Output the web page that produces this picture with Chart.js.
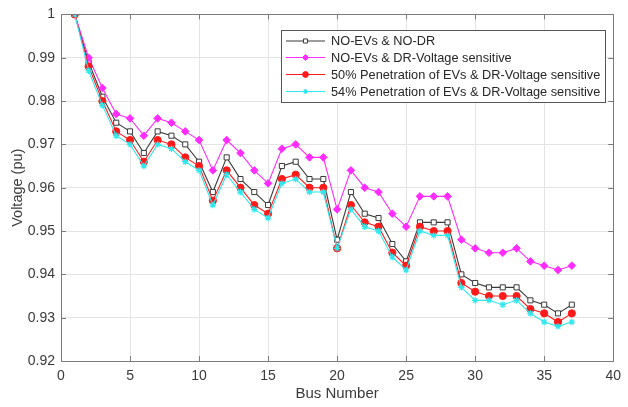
<!DOCTYPE html>
<html>
<head>
<meta charset="utf-8">
<script src="https://cdn.jsdelivr.net/npm/chart.js@4/dist/chart.umd.min.js"></script>
<style>
  html, body { margin: 0; padding: 0; background: #ffffff; }
  #wrap { width: 628px; height: 407px; position: relative; }
</style>
</head>
<body>
<div id="wrap"><canvas id="c" width="628" height="407"></canvas></div>
<script>
// Bus indices of the feeder
const busNumbers = [1, 2, 3, 4, 5, 6, 7, 8, 9, 10, 11, 12, 13, 14, 15, 16, 17, 18, 19, 20,
  21, 22, 23, 24, 25, 26, 27, 28, 29, 30, 31, 32, 33, 34, 35, 36, 37];

// Bus voltages (pu) for each scenario
const noEvNoDr = [1.000, 0.989, 0.981, 0.975, 0.973, 0.968, 0.973, 0.972, 0.970, 0.966,
  0.959, 0.967, 0.962, 0.959, 0.956, 0.965, 0.966, 0.962, 0.962, 0.948,
  0.959, 0.954, 0.953, 0.947, 0.943, 0.952, 0.952, 0.952, 0.940, 0.938,
  0.937, 0.937, 0.937, 0.934, 0.933, 0.931, 0.933];
const noEvDrVs = [1.000, 0.990, 0.983, 0.977, 0.976, 0.972, 0.976, 0.975, 0.973, 0.971,
  0.964, 0.971, 0.968, 0.964, 0.961, 0.969, 0.970, 0.967, 0.967, 0.955,
  0.964, 0.960, 0.959, 0.954, 0.951, 0.958, 0.958, 0.958, 0.948, 0.946,
  0.945, 0.945, 0.946, 0.943, 0.942, 0.941, 0.942];
const ev50DrVs = [1.000, 0.988, 0.980, 0.973, 0.971, 0.966, 0.971, 0.970, 0.967, 0.965,
  0.957, 0.964, 0.960, 0.956, 0.954, 0.962, 0.963, 0.960, 0.960, 0.946,
  0.956, 0.952, 0.951, 0.945, 0.942, 0.951, 0.950, 0.950, 0.938, 0.936,
  0.935, 0.935, 0.935, 0.932, 0.931, 0.929, 0.931];
const ev54DrVs = [1.000, 0.987, 0.979, 0.972, 0.970, 0.965, 0.970, 0.969, 0.966, 0.964,
  0.956, 0.963, 0.959, 0.955, 0.953, 0.961, 0.962, 0.959, 0.959, 0.946,
  0.955, 0.951, 0.950, 0.944, 0.941, 0.950, 0.949, 0.949, 0.937, 0.934,
  0.934, 0.933, 0.934, 0.931, 0.929, 0.928, 0.929];

const seriesLabels = [
  'NO-EVs & NO-DR',
  'NO-EVs & DR-Voltage sensitive',
  '50% Penetration of EVs & DR-Voltage sensitive',
  '54% Penetration of EVs & DR-Voltage sensitive'
];

// Axis ranges and tick steps
const xRange = [0, 40];
const xStep = 5;
const yRange = [0.92, 1.0];
const yStep = 0.01;

const FONT = "'Liberation Sans', Arial, sans-serif";

function toPoints(values) {
  return values.map((v, i) => ({ x: busNumbers[i], y: v }));
}

const styles = [
  { color: '#3a3a3a', pointStyle: 'rect', pointRadius: 3.6, fill: '#ffffff', borderW: 1 },
  { color: '#ff2bff', pointStyle: 'rectRot', pointRadius: 3.8, fill: '#ff2bff', borderW: 1 },
  { color: '#ff1a1a', pointStyle: 'circle', pointRadius: 3.6, fill: '#ff1a1a', borderW: 1 },
  { color: '#2ee8ee', pointStyle: 'star', pointRadius: 3.2, fill: '#2ee8ee', borderW: 1.2 }
];
const seriesValues = [noEvNoDr, noEvDrVs, ev50DrVs, ev54DrVs];

const datasets = seriesValues.map((vals, i) => ({
  label: seriesLabels[i],
  data: toPoints(vals),
  borderColor: styles[i].color,
  backgroundColor: styles[i].fill,
  borderWidth: 1.1,
  pointStyle: styles[i].pointStyle,
  pointRadius: styles[i].pointRadius,
  pointBorderWidth: styles[i].borderW,
  pointBorderColor: styles[i].color,
  pointBackgroundColor: styles[i].fill,
  tension: 0,
  // later series are painted on top of earlier ones
  order: seriesValues.length - i
}));

// Box outline and inward tick marks on all four sides
const axesBox = {
  id: 'axesBox',
  afterDatasetsDraw(chart) {
    const { ctx, chartArea: a, scales } = chart;
    const xs = scales.x, ys = scales.y;
    ctx.save();
    ctx.strokeStyle = '#7a7a7a';
    ctx.lineWidth = 1;
    ctx.beginPath();
    const tl = 5;
    xs.ticks.forEach(t => {
      const px = Math.round(xs.getPixelForValue(t.value)) + 0.5;
      ctx.moveTo(px, a.bottom); ctx.lineTo(px, a.bottom - tl);
      ctx.moveTo(px, a.top); ctx.lineTo(px, a.top + tl);
    });
    ys.ticks.forEach(t => {
      const py = Math.round(ys.getPixelForValue(t.value)) + 0.5;
      ctx.moveTo(a.left, py); ctx.lineTo(a.left + tl, py);
      ctx.moveTo(a.right, py); ctx.lineTo(a.right - tl, py);
    });
    ctx.stroke();
    ctx.strokeRect(Math.round(a.left) + 0.5, Math.round(a.top) + 0.5,
      Math.round(a.right - a.left), Math.round(a.bottom - a.top));
    ctx.restore();
  }
};

// Legend box in the upper right of the plot, line sample with marker per row
const insideLegend = {
  id: 'insideLegend',
  afterDraw(chart) {
    const { ctx } = chart;
    const bx = 281.5, by = 30.5, bw = 324, bh = 72;
    ctx.save();
    ctx.fillStyle = '#ffffff';
    ctx.fillRect(bx, by, bw, bh);
    ctx.strokeStyle = '#555555';
    ctx.lineWidth = 1;
    ctx.strokeRect(bx, by, bw, bh);
    const rowY = [41, 57.5, 74.5, 91.5];
    ctx.font = '12.75px ' + FONT;
    ctx.textBaseline = 'middle';
    ctx.textAlign = 'left';
    chart.data.datasets.forEach((ds, i) => {
      const y = rowY[i];
      ctx.strokeStyle = ds.borderColor;
      ctx.lineWidth = 1.1;
      ctx.beginPath();
      ctx.moveTo(286, y); ctx.lineTo(325, y);
      ctx.stroke();
      ctx.save();
      ctx.fillStyle = ds.pointBackgroundColor;
      ctx.strokeStyle = ds.pointBorderColor;
      ctx.lineWidth = ds.pointBorderWidth;
      Chart.helpers.drawPoint(ctx, {
        pointStyle: ds.pointStyle,
        radius: ds.pointRadius * 0.8,
        rotation: 0,
        borderWidth: ds.pointBorderWidth
      }, 305.5, y);
      ctx.restore();
      ctx.fillStyle = '#262626';
      ctx.fillText(ds.label, 331, y + 0.5);
    });
    ctx.restore();
  }
};

new Chart(document.getElementById('c'), {
  type: 'line',
  data: { datasets },
  options: {
    responsive: false,
    animation: false,
    devicePixelRatio: 1,
    layout: { padding: { left: 0, right: 9, top: 14, bottom: 0 } },
    plugins: {
      legend: { display: false },
      tooltip: { enabled: false }
    },
    scales: {
      x: {
        type: 'linear',
        min: xRange[0],
        max: xRange[1],
        ticks: {
          stepSize: xStep,
          padding: 7,
          color: '#3a3a3a',
          font: { family: FONT, size: 14 },
          maxRotation: 0
        },
        grid: { color: '#e4e4e4', lineWidth: 1, drawTicks: false },
        border: { display: true, color: '#7a7a7a' },
        title: {
          display: true,
          text: 'Bus Number',
          color: '#3a3a3a',
          font: { family: FONT, size: 15 },
          padding: { top: 0, bottom: 4 }
        },
        afterFit(scale) { scale.height = 46; }
      },
      y: {
        min: yRange[0],
        max: yRange[1],
        ticks: {
          stepSize: yStep,
          padding: 6,
          color: '#3a3a3a',
          font: { family: FONT, size: 14 },
          callback: v => (Math.abs(v - 1) < 1e-9 ? '1' : v.toFixed(2))
        },
        grid: { color: '#e4e4e4', lineWidth: 1, drawTicks: false },
        border: { display: true, color: '#7a7a7a' },
        title: {
          display: true,
          text: 'Voltage (pu)',
          color: '#3a3a3a',
          font: { family: FONT, size: 14.5 },
          padding: { top: 9.5, bottom: 0 }
        },
        afterFit(scale) { scale.width = 61; }
      }
    }
  },
  plugins: [axesBox, insideLegend]
});
</script>
</body>
</html>
